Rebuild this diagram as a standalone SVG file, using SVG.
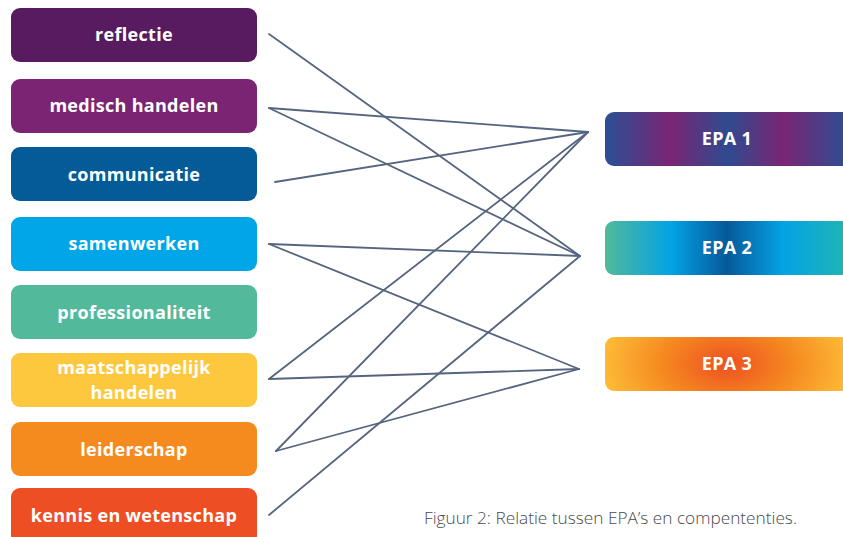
<svg xmlns="http://www.w3.org/2000/svg" width="843" height="537" viewBox="0 0 843 537">
<defs>
<linearGradient id="g1" x1="605" y1="0" x2="849" y2="0" gradientUnits="userSpaceOnUse">
<stop offset="0" stop-color="#2b4f95"/><stop offset="0.27" stop-color="#7a2573"/><stop offset="0.5" stop-color="#2f4b90"/><stop offset="0.73" stop-color="#7a2573"/><stop offset="1" stop-color="#2b4f95"/>
</linearGradient>
<linearGradient id="g2" x1="605" y1="0" x2="849" y2="0" gradientUnits="userSpaceOnUse">
<stop offset="0" stop-color="#52b99a"/><stop offset="0.27" stop-color="#03a3e4"/><stop offset="0.5" stop-color="#06599a"/><stop offset="0.73" stop-color="#03a3e4"/><stop offset="1" stop-color="#22b5b0"/>
</linearGradient>
<radialGradient id="g3" cx="727" cy="364" r="125" gradientUnits="userSpaceOnUse" gradientTransform="translate(727 364) scale(1 0.6) translate(-727 -364)">
<stop offset="0" stop-color="#ee4f23"/><stop offset="0.5" stop-color="#f5871f"/><stop offset="1" stop-color="#fdbb36"/>
</radialGradient>
</defs>
<style>
.box{stroke:none}
.lbl{font-family:"Open Sans","Liberation Sans",sans-serif;font-weight:700;font-size:18px;letter-spacing:0.3px;fill:#ffffff;text-anchor:middle}
.epa{font-family:"Open Sans","Liberation Sans",sans-serif;font-weight:700;font-size:18px;letter-spacing:0.3px;fill:#ffffff;text-anchor:middle}
#connectors line{stroke:#56657f;stroke-width:1.8;stroke-linecap:round}
.cap{font-family:"Open Sans","Liberation Sans",sans-serif;font-weight:300;font-size:15.5px;fill:#4a4a4a}
</style>
<rect width="843" height="537" fill="#ffffff"/>
<g id="n-reflectie"><rect class="box" x="11" y="8" width="246" height="54" rx="9" fill="#581b5f"/><text class="lbl" x="134" y="41">reflectie</text></g>
<g id="n-medisch"><rect class="box" x="11" y="79" width="246" height="54" rx="9" fill="#7a2473"/><text class="lbl" x="134" y="112">medisch handelen</text></g>
<g id="n-communicatie"><rect class="box" x="11" y="147" width="246" height="54" rx="9" fill="#045b97"/><text class="lbl" x="134" y="181">communicatie</text></g>
<g id="n-samenwerken"><rect class="box" x="11" y="217" width="246" height="54" rx="9" fill="#00a6e7"/><text class="lbl" x="134" y="250">samenwerken</text></g>
<g id="n-professionaliteit"><rect class="box" x="11" y="285" width="246" height="54" rx="9" fill="#53b99b"/><text class="lbl" x="134" y="319">professionaliteit</text></g>
<g id="n-maatschappelijk"><rect class="box" x="11" y="353" width="246" height="54" rx="9" fill="#fec83e"/><text class="lbl" x="134" y="374">maatschappelijk</text><text class="lbl" x="134" y="399">handelen</text></g>
<g id="n-leiderschap"><rect class="box" x="11" y="422" width="246" height="54" rx="9" fill="#f58b1f"/><text class="lbl" x="134" y="456">leiderschap</text></g>
<g id="n-kennis"><rect class="box" x="11" y="488" width="246" height="56" rx="9" fill="#ee4e23"/><text class="lbl" x="134" y="522">kennis en wetenschap</text></g>
<g id="n-epa1"><rect class="box" x="605" y="112" width="250" height="54" rx="9" fill="url(#g1)"/><text class="epa" x="727" y="145">EPA 1</text></g>
<g id="n-epa2"><rect class="box" x="605" y="221" width="250" height="54" rx="9" fill="url(#g2)"/><text class="epa" x="727" y="254">EPA 2</text></g>
<g id="n-epa3"><rect class="box" x="605" y="337" width="250" height="54" rx="9" fill="url(#g3)"/><text class="epa" x="727" y="370">EPA 3</text></g>
<g id="connectors">
<line x1="269" y1="34" x2="580" y2="256"/>
<line x1="269" y1="108" x2="588" y2="132"/>
<line x1="269" y1="108" x2="580" y2="256"/>
<line x1="275" y1="182" x2="588" y2="132"/>
<line x1="269" y1="244" x2="580" y2="256"/>
<line x1="269" y1="244" x2="579" y2="369"/>
<line x1="269" y1="379" x2="588" y2="132"/>
<line x1="269" y1="379" x2="579" y2="369"/>
<line x1="276" y1="451" x2="588" y2="132"/>
<line x1="276" y1="451" x2="579" y2="369"/>
<line x1="269" y1="515" x2="580" y2="256"/>
</g>
<text class="cap" x="424" y="524" textLength="373" lengthAdjust="spacingAndGlyphs">Figuur 2: Relatie tussen EPA’s en compententies.</text>
</svg>
